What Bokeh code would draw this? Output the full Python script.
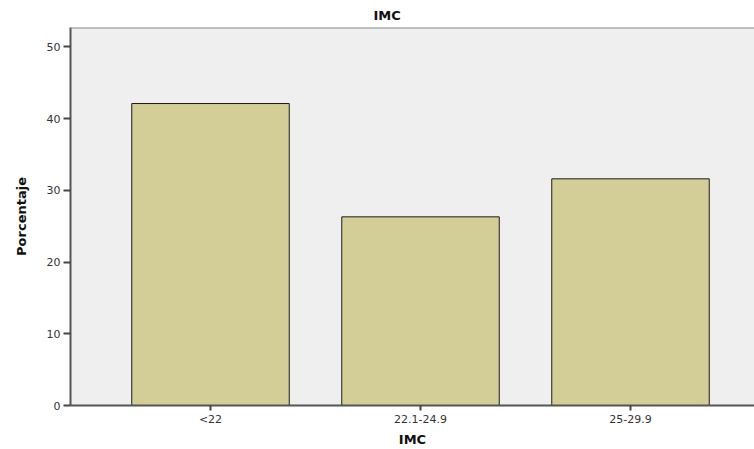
from bokeh.plotting import figure
from bokeh.models import Range1d, FixedTicker, Span, LinearAxis
from bokeh.embed import file_html
from bokeh.resources import INLINE

categories = ["<22", "22.1-24.9", "25-29.9"]
percentages = [42.1, 26.3, 31.6]
y_ticks = [0, 10, 20, 30, 40, 50]

xs = [i + 1 for i in range(len(categories))]

p = figure(width=754, height=449, output_backend="svg", toolbar_location=None,
           x_range=Range1d(1 - 140 / 210, 1 - 140 / 210 + 684 / 210),
           y_range=Range1d(0, 52.7),
           min_border_left=70, min_border_right=0, min_border_top=19, min_border_bottom=10,
           x_axis_location=None, y_axis_location=None)

p.title.text = "IMC"
p.title.align = "left"
p.title.offset = 303
p.title.text_font = "DejaVu Sans"
p.title.text_font_size = "13px"
p.title.text_font_style = "bold"
p.title.text_color = "#111111"

p.background_fill_color = "#EFEFEF"
p.border_fill_color = "white"
p.outline_line_color = None
p.xgrid.visible = False
p.ygrid.visible = False

p.vbar(x=xs, top=percentages, width=0.75, bottom=0,
       fill_color="#D3CE98", line_color="#1a1a1a", line_width=1)

p.add_layout(Span(location=52.7, dimension="width", line_color="#8a8a8a", line_width=2))

yaxis = LinearAxis(ticker=FixedTicker(ticks=y_ticks), axis_label="Porcentaje")
xaxis = LinearAxis(ticker=FixedTicker(ticks=xs), axis_label="IMC",
                   major_label_overrides={x: c for x, c in zip(xs, categories)})
for ax in (xaxis, yaxis):
    ax.axis_line_color = "#555555"
    ax.axis_line_width = 2
    ax.major_tick_line_color = "#444444"
    ax.major_tick_line_width = 2
    ax.major_tick_in = 0
    ax.minor_tick_line_color = None
    ax.major_label_text_font = "DejaVu Sans"
    ax.major_label_text_font_size = "11px"
    ax.major_label_text_color = "#333333"
    ax.axis_label_text_font = "DejaVu Sans"
    ax.axis_label_text_font_size = "13px"
    ax.axis_label_text_font_style = "bold"
    ax.axis_label_text_color = "#111111"
yaxis.major_tick_out = 7
yaxis.major_label_standoff = 3
yaxis.axis_label_standoff = 15
xaxis.major_tick_out = 5
xaxis.major_label_standoff = 2
xaxis.axis_label_standoff = 3
p.add_layout(yaxis, "left")
p.add_layout(xaxis, "below")

open("out.html", "w").write(file_html(p, INLINE))
